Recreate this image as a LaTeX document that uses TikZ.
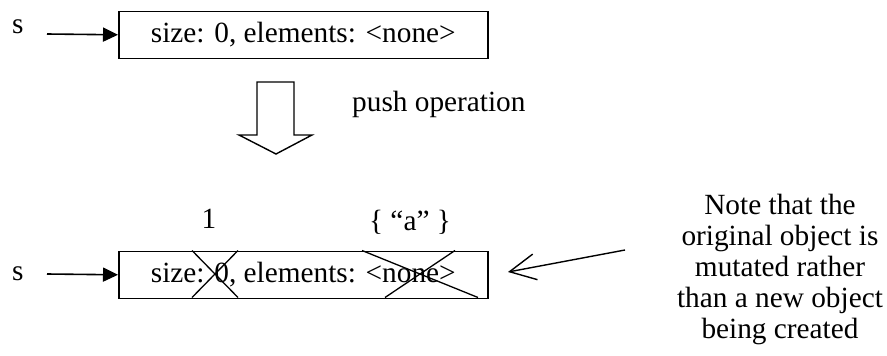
\documentclass[tikz,border=0pt]{standalone}
\usepackage{fontspec}
\setmainfont{Liberation Serif}
\usetikzlibrary{arrows.meta}
\begin{document}
\begin{tikzpicture}[x=1pt,y=-1pt,
  every node/.style={font=\fontsize{29.3}{30.8}\selectfont, inner sep=0pt},
  objbox/.style={draw, line width=1.6pt, minimum width=369pt, minimum height=47pt, anchor=north west},
  ptr/.style={line width=1.6pt, -{Triangle[length=15pt,width=14pt]}},
  cross/.style={line width=1.3pt},
  bigarrow/.style={draw, line width=1.4pt, line join=miter},
  notearrow/.style={line width=1.4pt, -{Straight Barb[length=26pt,width=26pt]}},
]
\useasboundingbox (0,0) rectangle (887,356);
% top object
\node[objbox] (b1) at (118,10.5) {size: 0, elements: <none>};
\node[anchor=base west] (s1) at (12,33) {s};
\coordinate (p1) at (47,34);
\draw[ptr] (p1) -- (b1.west);
% push arrow
\draw[bigarrow] (257,82) -- (294,82) -- (294,135) -- (312,135) -- (276,154) -- (239,135) -- (257,135) -- cycle;
\node[anchor=base west] (push) at (352,111) {push operation};
% bottom object
\node[objbox] (b2) at (118,250.5) {size: 0, elements: <none>};
\node[anchor=base west] (s2) at (12,280) {s};
\coordinate (p2) at (47,274);
\draw[ptr] (p2) -- (b2.west);
\node[anchor=base] (one) at (209,228) {1};
\node[anchor=base] (elts) at (410,230) {\{ “a” \}};
\draw[cross] (192,250.5) -- (238,297.5);
\draw[cross] (238,250.5) -- (192,297.5);
\draw[cross] (362,250.5) -- (478,297.5);
\draw[cross] (455,250.5) -- (385,297.5);
% note
\node[align=center, anchor=base] (note) at (780,338) {Note that the\\original object is\\mutated rather\\than a new object\\being created};
\coordinate (na) at (625,250);
\coordinate (nt) at (508,272);
\draw[notearrow] (na) -- (nt);
\end{tikzpicture}
\end{document}
